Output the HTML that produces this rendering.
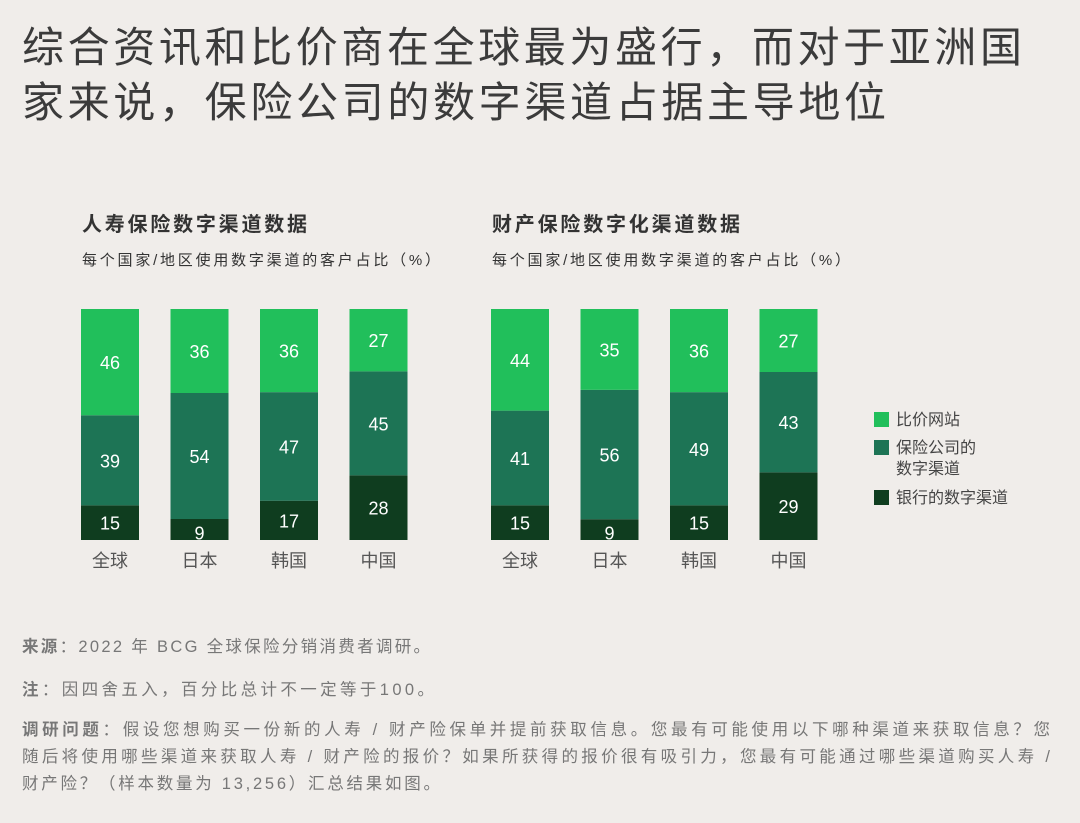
<!DOCTYPE html>
<html><head><meta charset="utf-8"><style>
body{margin:0;background:#f0edea;}
svg{display:block;font-family:"Liberation Sans","Noto Sans CJK SC",sans-serif;}
</style></head><body>
<svg id="c" width="1080" height="823" viewBox="0 0 1080 823">
<rect width="1080" height="823" fill="#f0edea"/>
<text x="22" y="62" font-size="42" fill="#3b3b3b" textLength="1000" lengthAdjust="spacing">综合资讯和比价商在全球最为盛行，而对于亚洲国</text>
<text x="22" y="117" font-size="42" fill="#3b3b3b" textLength="864" lengthAdjust="spacing">家来说，保险公司的数字渠道占据主导地位</text>
<text x="82" y="231" font-size="20" font-weight="bold" fill="#333" textLength="225" lengthAdjust="spacing">人寿保险数字渠道数据</text>
<text x="82" y="265" font-size="15" fill="#333" textLength="358" lengthAdjust="spacing">每个国家/地区使用数字渠道的客户占比（%）</text>
<text x="492" y="231" font-size="20" font-weight="bold" fill="#333" textLength="248" lengthAdjust="spacing">财产保险数字化渠道数据</text>
<text x="492" y="265" font-size="15" fill="#333" textLength="358" lengthAdjust="spacing">每个国家/地区使用数字渠道的客户占比（%）</text>
<g>
<rect x="874" y="412" width="15" height="15" fill="#21bf5b"/>
<text x="896" y="425" font-size="16" fill="#444">比价网站</text>
<rect x="874" y="440" width="15" height="15" fill="#1d7455"/>
<text x="896" y="453" font-size="16" fill="#444">保险公司的</text>
<text x="896" y="474" font-size="16" fill="#444">数字渠道</text>
<rect x="874" y="490" width="15" height="15" fill="#0f3d1f"/>
<text x="896" y="503" font-size="16" fill="#444">银行的数字渠道</text>
</g>
<text x="22" y="652" font-size="16.5" fill="#777" textLength="408" lengthAdjust="spacing"><tspan font-weight="bold">来源</tspan>：2022 年 BCG 全球保险分销消费者调研。</text>
<text x="22" y="695" font-size="16.5" fill="#777" textLength="412" lengthAdjust="spacing"><tspan font-weight="bold">注</tspan>：因四舍五入，百分比总计不一定等于100。</text>
<text x="22" y="735" font-size="16.5" fill="#777" textLength="1028" lengthAdjust="spacing"><tspan font-weight="bold">调研问题</tspan>：假设您想购买一份新的人寿 / 财产险保单并提前获取信息。您最有可能使用以下哪种渠道来获取信息？您</text>
<text x="22" y="762" font-size="16.5" fill="#777" textLength="1028" lengthAdjust="spacing">随后将使用哪些渠道来获取人寿 / 财产险的报价？如果所获得的报价很有吸引力，您最有可能通过哪些渠道购买人寿 /</text>
<text x="22" y="789" font-size="16.5" fill="#777" textLength="418" lengthAdjust="spacing">财产险？（样本数量为 13,256）汇总结果如图。</text>
</svg>
<script>
const categories = ["全球","日本","韩国","中国"];
const lifeComparison = [46,36,36,27];
const lifeInsurer = [39,54,47,45];
const lifeBank = [15,9,17,28];
const pcComparison = [44,35,36,27];
const pcInsurer = [41,56,49,43];
const pcBank = [15,9,15,29];

const NS = "http://www.w3.org/2000/svg";
const svg = document.getElementById('c');
const baseY = 540, plotH = 231, barW = 58;
function yScale(v){ return v * plotH / 100; }
function drawChart(x0, cmp, ins, bank, prefix){
  categories.forEach((cat, i) => {
    const x = x0 + i * 89.5;
    const segs = [[bank[i], "#0f3d1f", "bank"], [ins[i], "#1d7455", "insurer"], [cmp[i], "#21bf5b", "comparison"]];
    const total = bank[i] + ins[i] + cmp[i];
    let y = baseY;
    segs.forEach(([v, col, key], k) => {
      const h = yScale(v * 100 / total);
      const r = document.createElementNS(NS, 'rect');
      
      
      r.setAttribute('x', x); r.setAttribute('y', y - h);
      r.setAttribute('width', barW); r.setAttribute('height', h);
      r.setAttribute('fill', col);
      svg.appendChild(r);
      const t = document.createElementNS(NS, 'text');
      
      
      t.setAttribute('x', x + barW / 2);
      t.setAttribute('y', y - h / 2 + 7 + (k === 0 && h < 30 ? 3 : 0));
      t.setAttribute('text-anchor', 'middle');
      t.setAttribute('font-size', '18');
      t.setAttribute('fill', '#ffffff');
      t.textContent = v;
      svg.appendChild(t);
      y -= h;
    });
    const l = document.createElementNS(NS, 'text');
    
    
    l.setAttribute('x', x + barW / 2); l.setAttribute('y', 567);
    l.setAttribute('text-anchor', 'middle'); l.setAttribute('font-size', '18');
    l.setAttribute('fill', '#555');
    l.textContent = cat;
    svg.appendChild(l);
  });
}
drawChart(81, lifeComparison, lifeInsurer, lifeBank, 'life');
drawChart(491, pcComparison, pcInsurer, pcBank, 'pc');
</script>
</body></html>
